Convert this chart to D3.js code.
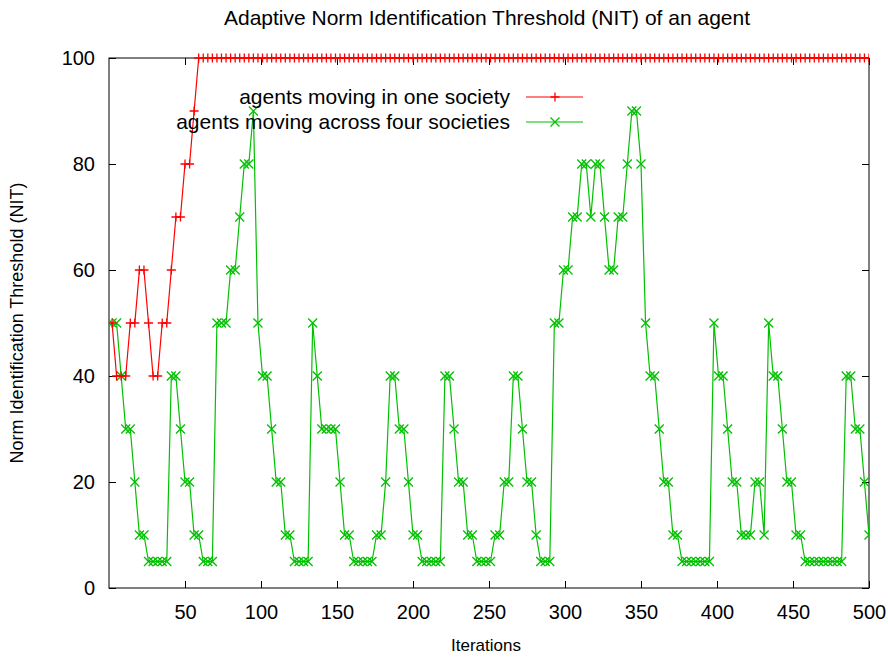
<!DOCTYPE html>
<html>
<head>
	<meta charset="utf-8">
	<title>Adaptive NIT</title>
	<script src="https://cdn.jsdelivr.net/npm/d3@7/dist/d3.min.js"></script>
	<style type="text/css">
		body{
			margin: 0;
			padding: 0;
			background: #fff;
		}
		svg{
			display: block;
			font-family: "Liberation Sans", Arial, sans-serif;
		}
		.tick-label{
			font-family: "Liberation Sans", Arial, sans-serif;
			font-size: 20px;
			fill: #000;
		}
	</style>
</head>
<body>
	<svg id="svg" width="888" height="660"></svg>
</body>
	<script type="text/javascript">
		// x ticks / y ticks shown on the axes
		let xTicks = [50,100,150,200,250,300,350,400,450,500];
		let yTicks = [0,20,40,60,80,100];

		// series names
		let seriesNames = ['agents moving in one society','agents moving across four societies'];

		// NIT levels: [iteration where the level starts, NIT]
		let oneSociety = [
			[0,50],[5,40],[14,50],[18,60],[25,50],[29,40],[34,50],[39,60],[44,70],[49,80],[54,90],[59,100]
		];
		let fourSocieties = [
			[0,50],[6,40],[11,30],[15,20],[20,10],[25,5],[39,40],[45,30],[50,20],[55,10],[60,5],
			[71,50],[79,60],[84,70],[89,80],[93,90],[96,50],[100,40],[105,30],[110,20],[115,10],[120,5],
			[132,50],[135,40],[140,30],[150,20],[155,10],[160,5],[175,10],[180,20],[185,40],[190,30],
			[195,20],[200,10],[205,5],[219,40],[225,30],[230,20],[235,10],[240,5],[254,10],[260,20],
			[265,40],[270,30],[275,20],[280,10],[284,5],[292,50],[299,60],[304,70],[309,80],[315,70],
			[319,80],[324,70],[329,60],[335,70],[339,80],[344,90],[349,80],[352,50],[355,40],[360,30],
			[365,20],[370,10],[375,5],[397,50],[400,40],[405,30],[410,20],[415,10],[424,20],[430,10],
			[433,50],[436,40],[441,30],[446,20],[451,10],[456,5],[484,40],[490,30],[495,20],[499,10]
		];
		// the run logged the NIT every 3 iterations
		let sampleEvery = 3, firstSample = 2, lastIteration = 500;

		let margin = {left:109, right:19, top:58, bottom:72};
		let width = 888, height = 660;
		let svg = d3.select('#svg');

		let x = d3.scaleLinear().domain([0,500]).range([margin.left, width-margin.right]);
		let y = d3.scaleLinear().domain([0,100]).range([height-margin.bottom, margin.top]);

		// expand the level list into the logged samples
		function samples(levels){
			let out = [];
			for(let it=firstSample; it<=lastIteration; it+=sampleEvery){
				let v = levels[0][1];
				levels.forEach(function(d){ if(d[0]<=it) v = d[1]; });
				out.push([it,v]);
			}
			return out;
		}

		// title
		svg.append('text')
			.attr('x',487).attr('y',25)
			.attr('text-anchor','middle')
			.style('font-size','21px')
			.text('Adaptive Norm Identification Threshold (NIT) of an agent');

		// axis labels
		svg.append('text')
			.attr('x',486).attr('y',651)
			.attr('text-anchor','middle')
			.style('font-size','17px')
			.text('Iterations');
		svg.append('text')
			.attr('transform','translate(23,'+((margin.top+height-margin.bottom)/2)+') rotate(-90)')
			.attr('text-anchor','middle')
			.style('font-size','18px')
			.text('Norm Identification Threshold (NIT)');

		let plotW = width-margin.left-margin.right, plotH = height-margin.top-margin.bottom;

		// axes, ticks inward and mirrored on the opposite side
		let axisG = svg.append('g').attr('class','axes');
		axisG.append('g')
			.attr('transform','translate(0,'+(height-margin.bottom)+')')
			.call(d3.axisBottom(x).tickValues(xTicks).tickSizeInner(-7).tickSizeOuter(0))
			.call(g=>g.selectAll('text')
				.attr('class','tick-label')
				.attr('y',31).attr('dy',null));
		axisG.append('g')
			.attr('transform','translate(0,'+margin.top+')')
			.call(d3.axisTop(x).tickValues(xTicks).tickSizeInner(-7).tickSizeOuter(0).tickFormat(''));
		axisG.append('g')
			.attr('transform','translate('+margin.left+',0)')
			.call(d3.axisLeft(y).tickValues(yTicks).tickSizeInner(-7).tickSizeOuter(0))
			.call(g=>g.selectAll('text')
				.attr('class','tick-label')
				.attr('x',-14));
		axisG.append('g')
			.attr('transform','translate('+(width-margin.right)+',0)')
			.call(d3.axisRight(y).tickValues(yTicks).tickSizeInner(-7).tickSizeOuter(0).tickFormat(''));
		axisG.selectAll('.domain').remove();
		axisG.selectAll('line').style('stroke','#000');
		axisG.append('rect')
			.attr('x',margin.left).attr('y',margin.top)
			.attr('width',plotW).attr('height',plotH)
			.style('fill','none').style('stroke','#000').style('stroke-width',1);

		svg.append('clipPath').attr('id','plotclip')
			.append('rect').attr('x',margin.left).attr('y',margin.top-6).attr('width',plotW).attr('height',plotH+6);

		let line = d3.line().x(d=>x(d[0])).y(d=>y(d[1]));

		function plus(g,cx,cy,s,color){
			g.append('path')
				.attr('d','M'+(cx-s)+','+cy+'H'+(cx+s)+'M'+cx+','+(cy-s)+'V'+(cy+s))
				.style('stroke',color).style('stroke-width',1.3).style('fill','none');
		}
		function cross(g,cx,cy,s,color){
			g.append('path')
				.attr('d','M'+(cx-s)+','+(cy-s)+'L'+(cx+s)+','+(cy+s)+'M'+(cx-s)+','+(cy+s)+'L'+(cx+s)+','+(cy-s))
				.style('stroke',color).style('stroke-width',1.3).style('fill','none');
		}

		let series = [
			{name:seriesNames[0], data:samples(oneSociety), color:'#ff0000', marker:plus},
			{name:seriesNames[1], data:samples(fourSocieties), color:'#00c000', marker:cross}
		];

		let plot = svg.append('g').attr('clip-path','url(#plotclip)');
		series.slice().reverse().forEach(function(s){
			let g = plot.append('g');
			g.append('path')
				.datum(s.data)
				.attr('d',line)
				.style('fill','none')
				.style('stroke',s.color)
				.style('stroke-width',1.2);
			s.data.forEach(function(d){
				s.marker(g,x(d[0]),y(d[1]),4.5,s.color);
			});
		});

		// legend
		let legend = svg.append('g');
		series.forEach(function(s,i){
			let ly = 97+i*25;
			legend.append('text')
				.attr('x',510).attr('y',ly+7)
				.attr('text-anchor','end')
				.style('font-size','21px')
				.style('fill','#000')
				.text(s.name);
			legend.append('line')
				.attr('x1',526).attr('x2',583).attr('y1',ly).attr('y2',ly)
				.style('stroke',s.color).style('stroke-width',1.2);
			s.marker(legend,555,ly,4.5,s.color);
		});
	</script>
</html>
